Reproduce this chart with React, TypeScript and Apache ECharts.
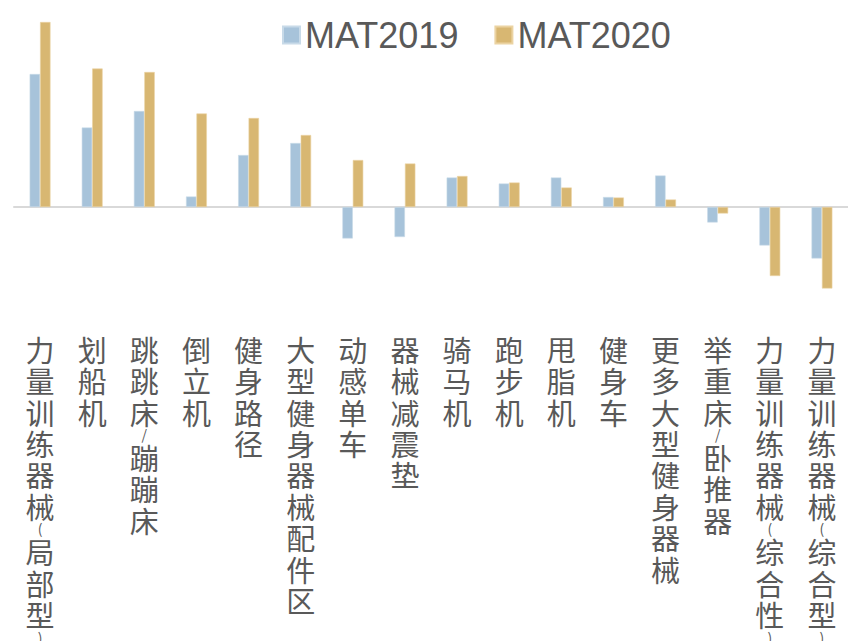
import React, { useEffect, useRef } from "react";
import * as echarts from "echarts";

const categories = [
  "力量训练器械(局部型)",
  "划船机",
  "跳跳床/蹦蹦床",
  "倒立机",
  "健身路径",
  "大型健身器械配件区",
  "动感单车",
  "器械减震垫",
  "骑马机",
  "跑步机",
  "甩脂机",
  "健身车",
  "更多大型健身器械",
  "举重床/卧推器",
  "力量训练器械(综合性)",
  "力量训练器械(综合型)",
];

const seriesNames = ["MAT2019", "MAT2020"];

const mat2019 = [133, 79.5, 96, 10.5, 52, 64, -31.5, -30, 29.5, 23.5, 29.5, 10, 31.5, -15.5, -38.5, -51.5];
const mat2020 = [185, 138.5, 135, 93.5, 89, 72, 47, 43.5, 31, 24.5, 19.5, 9.5, 7.5, -6.5, -69, -81.5];

const labelColor = "#595959";
const cjkFont = "'Noto Sans CJK SC', 'Noto Sans', sans-serif";

function verticalLabel(name: string): string {
  return Array.from(name)
    .map((ch) => ("()/".includes(ch) ? `{p|${ch}}` : `{c|${ch}}`))
    .join("\n");
}

export default function App() {
  const ref = useRef<HTMLDivElement>(null);

  useEffect(() => {
    if (!ref.current) return;
    const chart = echarts.init(ref.current, undefined, { renderer: "svg" });
    chart.setOption({
      animation: false,
      backgroundColor: "#ffffff",
      legend: {
        data: seriesNames,
        left: 277,
        top: 12,
        icon: "rect",
        itemWidth: 17,
        itemHeight: 17,
        itemGap: 36,
        textStyle: {
          fontSize: 36,
          color: labelColor,
          fontFamily: "'Liberation Sans', Arial, sans-serif",
        },
      },
      grid: {
        left: 14,
        top: 7,
        width: 834,
        height: 300,
        containLabel: false,
        outerBoundsMode: "none",
      },
      xAxis: {
        type: "category",
        data: categories,
        axisLine: { onZero: true, lineStyle: { color: "#D9D9D9", width: 2 } },
        axisTick: { show: false },
        axisLabel: {
          interval: 0,
          margin: 26,
          hideOverlap: false,
          formatter: (v: string) => verticalLabel(v),
          rich: {
            c: { fontSize: 29, lineHeight: 31.4, color: labelColor, fontFamily: cjkFont },
            p: { fontSize: 14, lineHeight: 14, color: labelColor, fontFamily: cjkFont },
          },
        },
      },
      yAxis: {
        type: "value",
        min: -100,
        max: 200,
        show: false,
        splitLine: { show: false },
      },
      series: [
        {
          name: seriesNames[0],
          type: "bar",
          data: mat2019,
          barWidth: "20%",
          barGap: "0%",
          itemStyle: { color: "#A7C3DA", borderColor: "#C8DAE8", borderWidth: 0.6 },
        },
        {
          name: seriesNames[1],
          type: "bar",
          data: mat2020,
          barWidth: "20%",
          barGap: "0%",
          itemStyle: { color: "#D8B772", borderColor: "#EBD3A2", borderWidth: 0.6 },
        },
      ],
    });
    return () => chart.dispose();
  }, []);

  return (
    <div
      ref={ref}
      style={{ position: "absolute", left: 0, top: 0, width: 848, height: 641 }}
    />
  );
}
